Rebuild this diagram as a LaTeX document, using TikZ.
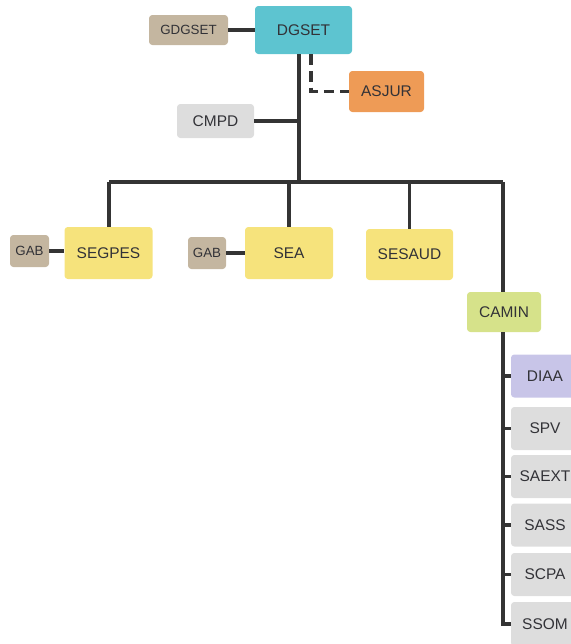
\documentclass[tikz,border=0pt]{standalone}
\usepackage{fontspec}
\setmainfont{Liberation Sans}
\definecolor{cdg}{RGB}{93,196,208}
\definecolor{ctan}{RGB}{196,182,160}
\definecolor{corg}{RGB}{238,155,86}
\definecolor{cgry}{RGB}{221,221,221}
\definecolor{cyel}{RGB}{246,227,124}
\definecolor{cgrn}{RGB}{214,226,138}
\definecolor{cpur}{RGB}{200,197,232}
\definecolor{cline}{RGB}{52,52,52}
\definecolor{ctxt}{RGB}{50,50,55}
\tikzset{
  box/.style={rectangle, rounded corners=2.5pt, inner sep=0pt, text=ctxt,
    font=\fontsize{11.6pt}{13pt}\selectfont, anchor=center},
  smallbox/.style={box, font=\fontsize{10pt}{12pt}\selectfont},
  link/.style={draw=cline, line width=2.5pt},
  dlink/.style={link, dash pattern=on 8pt off 4.5pt},
}
\begin{document}
\begin{tikzpicture}[x=0.75pt,y=-0.75pt]
\useasboundingbox (0,0) rectangle (571,644);
\clip (0,0) rectangle (571,644);
% top
\node[box, fill=cdg, minimum width=97*0.75pt, minimum height=48*0.75pt] (dgset) at (303.5,30) {DGSET};
\node[smallbox, fill=ctan, minimum width=79*0.75pt, minimum height=30*0.75pt] (gdgset) at (188.5,30) {GDGSET};
\node[box, fill=corg, minimum width=75*0.75pt, minimum height=41*0.75pt] (asjur) at (386.5,91.5) {ASJUR};
\node[box, fill=cgry, minimum width=77*0.75pt, minimum height=34*0.75pt] (cmpd) at (215.5,121) {CMPD};
% second level
\node[box, fill=cyel, minimum width=88*0.75pt, minimum height=52*0.75pt] (segpes) at (108.5,253) {SEGPES};
\node[smallbox, fill=ctan, minimum width=39*0.75pt, minimum height=32*0.75pt] (gab1) at (29.5,251) {GAB};
\node[box, fill=cyel, minimum width=88*0.75pt, minimum height=52*0.75pt] (sea) at (289,253) {SEA};
\node[smallbox, fill=ctan, minimum width=38*0.75pt, minimum height=32*0.75pt] (gab2) at (207,253) {GAB};
\node[box, fill=cyel, minimum width=87*0.75pt, minimum height=51*0.75pt] (sesaud) at (409.5,254.5) {SESAUD};
\node[box, fill=cgrn, minimum width=74*0.75pt, minimum height=40*0.75pt] (camin) at (504,312) {CAMIN};
% right column
\tikzset{col/.style={box, minimum width=68*0.75pt, minimum height=43*0.75pt}}
\node[col, fill=cpur] (diaa) at (545,376) {DIAA};
\node[col, fill=cgry] (spv) at (545,428.5) {SPV};
\node[col, fill=cgry] (saext) at (545,476.5) {SAEXT};
\node[col, fill=cgry] (sass) at (545,525) {SASS};
\node[col, fill=cgry] (scpa) at (545,574.5) {SCPA};
\node[col, fill=cgry, minimum height=44*0.75pt] (ssom) at (545,624) {SSOM};
% coordinates
\coordinate (busL) at (109,182);
\coordinate (busM) at (299,182);
\coordinate (busR) at (503,182);
\coordinate (dsh) at (311,91.5);
\coordinate (sp) at (503,0);
% connectors
\draw[link] (gdgset.east) -- (dgset.west |- gdgset.east);
\draw[link] (dgset.south -| busM) -- (busM);
\draw[dlink] (dgset.south -| dsh) |- (asjur.west);
\draw[link] (cmpd.east) -- (cmpd.east -| busM);
\draw[link] (busL) -- (busR);
\draw[link] (busL) -- (segpes.north -| busL);
\draw[link] (sea.north |- busL) -- (sea.north);
\draw[link] (sesaud.north |- busL) -- (sesaud.north);
\draw[link] (busR) -- (camin.north -| busR);
\draw[link] (gab1.east) -- (gab1.east -| segpes.west);
\draw[link] (gab2.east) -- (gab2.east -| sea.west);
\draw[link] (camin.south -| sp) |- (ssom.west);
\draw[link] (diaa.west -| sp) -- (diaa.west);
\draw[link] (spv.west -| sp) -- (spv.west);
\draw[link] (saext.west -| sp) -- (saext.west);
\draw[link] (sass.west -| sp) -- (sass.west);
\draw[link] (scpa.west -| sp) -- (scpa.west);
\end{tikzpicture}
\end{document}
